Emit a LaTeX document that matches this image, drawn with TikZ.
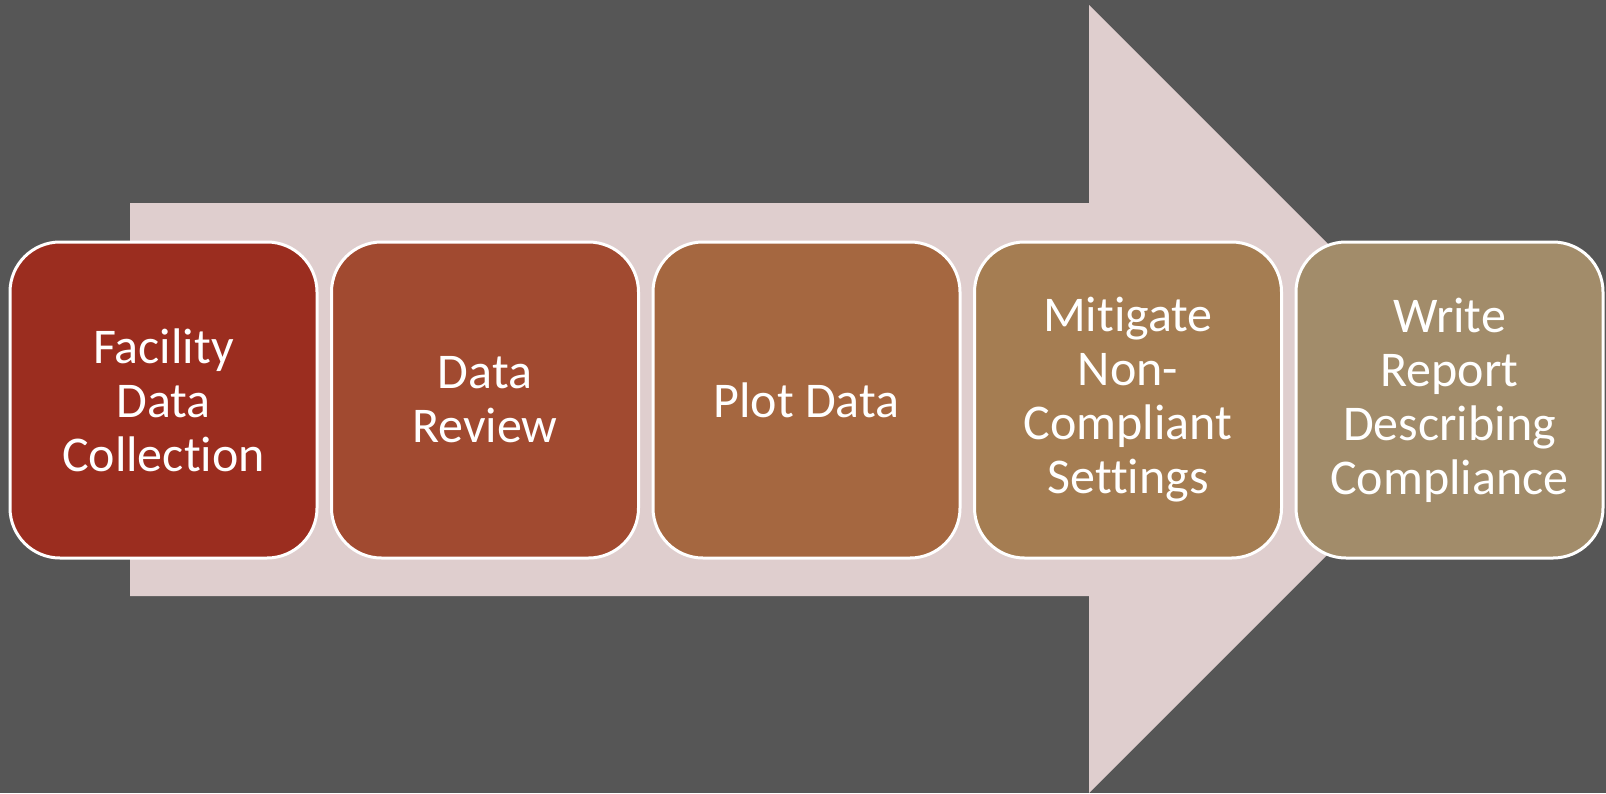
\documentclass[tikz,border=0pt]{standalone}
\usepackage{fontspec}
\setmainfont[Ligatures={NoCommon}]{Carlito}
\definecolor{bgcol}{HTML}{565656}
\definecolor{arrowcol}{HTML}{DFCECE}
\definecolor{stepA}{HTML}{9B2D1F}
\definecolor{stepB}{HTML}{A14A30}
\definecolor{stepC}{HTML}{A56740}
\definecolor{stepD}{HTML}{A57D52}
\definecolor{stepE}{HTML}{A28C6A}
\begin{document}
\begin{tikzpicture}[x=1pt,y=-1pt,
  stepbox/.style={rectangle, rounded corners=50pt, draw=white, line width=3pt,
    minimum width=307pt, minimum height=316pt, inner sep=0pt,
    text=white, align=center, font=\fontsize{50}{54}\selectfont}]
  % canvas
  \fill[bgcol] (0,0) rectangle (1606,793);
  \useasboundingbox (0,0) rectangle (1606,793);
  % big process arrow
  \fill[arrowcol] (130,203) -- (1089,203) -- (1089,5) -- (1483,399)
    -- (1089,793) -- (1089,596) -- (130,596) -- cycle;
  % process steps
  \node[stepbox, fill=stepA] (s1) at (163.5,400) {Facility\\Data\\Collection};
  \node[stepbox, fill=stepB] (s2) at (485,400) {Data\\Review};
  \node[stepbox, fill=stepC] (s3) at (806.5,400) {Plot Data};
  \node[stepbox, fill=stepD] (s4) at (1128,400) {Mitigate\\Non-\\Compliant\\Settings};
  \node[stepbox, fill=stepE] (s5) at (1449.5,400) {Write\\Report\\Describing\\Compliance};
\end{tikzpicture}
\end{document}
